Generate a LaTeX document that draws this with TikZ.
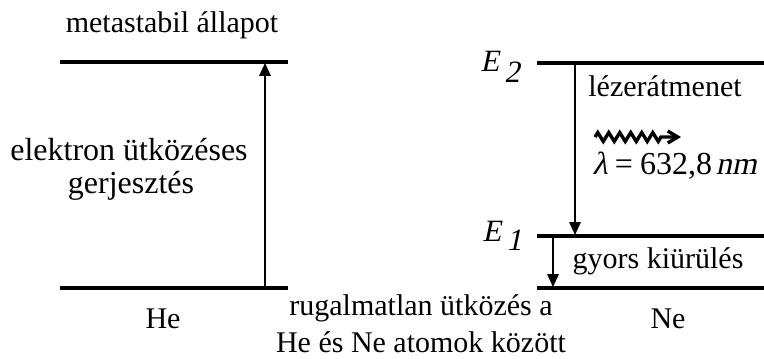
\documentclass[tikz,border=0pt]{standalone}
\usepackage{fontspec}
\setmainfont{Liberation Serif}
\newfontfamily\slserif{Liberation Serif}[FakeSlant=0.21]
\usetikzlibrary{arrows.meta,decorations.pathmorphing}
\tikzset{
  level/.style={line width=1.6pt},
  trans/.style={line width=1.3pt,-{Triangle[length=6.5pt,width=5.5pt]}},
  lbl/.style={inner sep=0pt,anchor=base,font=\fontsize{15}{17}\selectfont},
  biglbl/.style={inner sep=0pt,anchor=base,font=\fontsize{16}{18}\selectfont},
  lamlbl/.style={inner sep=0pt,anchor=base west,font=\fontsize{16}{18}\selectfont},
  elbl/.style={inner sep=0pt,anchor=base west,font=\fontsize{15.5}{17}\selectfont\slserif},
  photon/.style={line width=1.7pt,decorate,
    decoration={zigzag,amplitude=2.2pt,segment length=5.5pt,post length=10pt},
    -{Straight Barb[length=5pt,width=6pt]}}
}
\begin{document}
\begin{tikzpicture}[x=0.5pt,y=-0.5pt]
\useasboundingbox (0,0) rectangle (764,358);
% He levels
\coordinate (hetl) at (60,62);
\coordinate (hetr) at (288,62);
\coordinate (hebl) at (60,288);
\coordinate (hebr) at (288,288);
\draw[level] (hetl) -- (hetr);
\draw[level] (hebl) -- (hebr);
\coordinate (hea0) at (265,288);
\coordinate (hea1) at (265,62.8);
\draw[trans] (hea0) -- (hea1);
% Ne levels
\coordinate (ne2l) at (537,63);
\coordinate (ne2r) at (764,63);
\coordinate (ne1l) at (537,236);
\coordinate (ne1r) at (764,236);
\coordinate (ne0l) at (537,288);
\coordinate (ne0r) at (764,288);
\draw[level] (ne2l) -- (ne2r);
\draw[level] (ne1l) -- (ne1r);
\draw[level] (ne0l) -- (ne0r);
\coordinate (nea0) at (575,63);
\coordinate (nea1) at (575,235.2);
\draw[trans] (nea0) -- (nea1);
\coordinate (neb0) at (553,236);
\coordinate (neb1) at (553,287.2);
\draw[trans] (neb0) -- (neb1);
% photon
\coordinate (ph0) at (595,137);
\coordinate (ph1) at (681,137);
\draw[photon] (ph0) -- (ph1);
% texts
\node[lbl] (meta) at (172,33) {metastabil állapot};
\node[biglbl] (ex1) at (129,160) {elektron ütközéses};
\node[biglbl] (ex2) at (131,193) {gerjesztés};
\node[lbl] (he) at (163,328) {He};
\node[lbl] (ne) at (668,328) {Ne};
\node[lbl] (ru1) at (421,315) {rugalmatlan ütközés a};
\node[lbl] (ru2) at (421,352) {He és Ne atomok között};
\node[lbl] (laser) at (665,97) {lézerátmenet};
\node[lbl] (gyors) at (658,268) {gyors kiürülés};
\node[lamlbl] (lam) at (592,174) {{\slserif λ}\hspace{0.22em}=\hspace{0.22em}632,8\hspace{0.12em}{\slserif nm}};
\node[elbl] (e2) at (480,72) {E\hspace{2.5pt}\raisebox{-5.5pt}{2}};
\node[elbl] (e1) at (482,241) {E\hspace{2.5pt}\raisebox{-4.5pt}{1}};
\end{tikzpicture}
\end{document}
